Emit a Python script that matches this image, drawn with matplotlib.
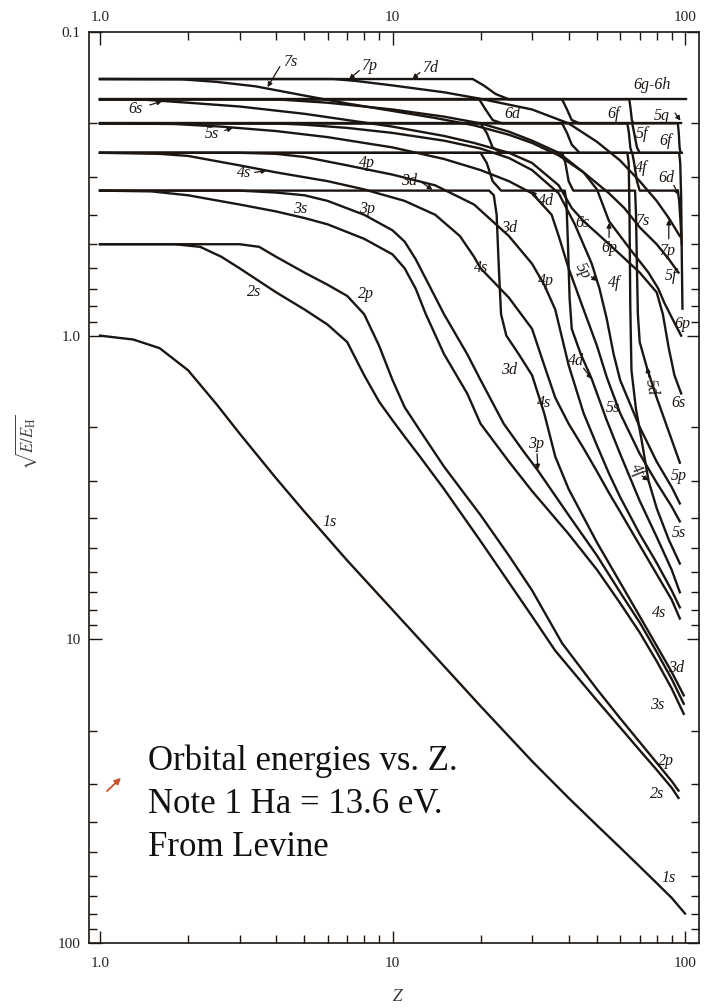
import matplotlib
matplotlib.use('Agg')
import matplotlib.pyplot as plt
from matplotlib.patches import FancyArrowPatch
from matplotlib.ticker import FixedLocator, FixedFormatter, NullFormatter

plt.rcParams['font.family'] = ['Liberation Serif', 'DejaVu Serif']
plt.rcParams['mathtext.fontset'] = 'stix'

# orbital curves: Z values and sqrt(E/E_H) values
z_1s = [1, 1.3, 1.6, 2, 2.5, 3, 4, 5, 7, 10, 14, 20, 30, 40, 50, 60, 70, 80, 90, 100]
y_1s = [1.0, 1.03, 1.1, 1.3, 1.68, 2.1, 2.95, 3.8, 5.5, 8.0, 11.4, 16.6, 25.2, 33.3, 41, 48.5, 56, 63.5, 71, 80]

z_2s = [1, 1.8, 2.2, 2.6, 3, 4, 5, 6, 7, 8, 9, 10, 11, 12.4, 15, 20, 25, 30, 36, 50, 60, 70, 80, 90, 95]
y_2s = [0.5, 0.5, 0.51, 0.55, 0.6, 0.72, 0.82, 0.92, 1.05, 1.35, 1.65, 1.9, 2.15, 2.5, 3.2, 4.75, 6.5, 8.4, 10.9, 15.9, 19.5, 23.2, 26.9, 30.8, 33.3]

z_2p = [1, 3, 3.5, 4, 5, 6, 7, 8, 9, 10, 11, 12.4, 15, 20, 25, 30, 38, 50, 60, 70, 80, 90, 95]
y_2p = [0.5, 0.5, 0.51, 0.55, 0.62, 0.68, 0.74, 0.85, 1.08, 1.4, 1.72, 2.05, 2.7, 3.9, 5.3, 6.9, 10.3, 14.6, 18.2, 21.8, 25.5, 29.3, 31.5]

z_3s = [1, 1.5, 2, 3, 4, 5, 6, 8, 10, 11, 12, 13, 15, 18, 20, 25, 30, 40, 50, 60, 70, 80, 90, 99]
y_3s = [0.333, 0.335, 0.345, 0.37, 0.39, 0.41, 0.43, 0.48, 0.54, 0.6, 0.7, 0.85, 1.15, 1.55, 1.95, 2.6, 3.25, 4.5, 5.9, 7.6, 9.5, 11.8, 14.5, 17.6]

z_3p = [1, 3, 4, 5, 6, 8, 10, 11, 12, 13, 15, 18, 20, 24, 28, 31.4, 40, 50, 60, 70, 80, 90, 99]
y_3p = [0.333, 0.333, 0.338, 0.345, 0.36, 0.4, 0.45, 0.49, 0.56, 0.65, 0.85, 1.15, 1.4, 1.95, 2.4, 2.78, 3.9, 5.3, 7.0, 8.8, 11.0, 13.5, 16.3]

z_3d = [1, 21.4, 22.2, 22.7, 23.1, 23.5, 24.5, 27, 30, 33, 36, 40, 50, 60, 70, 80, 90, 99]
y_3d = [0.333, 0.333, 0.345, 0.4, 0.6, 0.85, 1.0, 1.15, 1.35, 1.8, 2.5, 3.2, 4.8, 6.5, 8.4, 10.5, 12.8, 15.3]

z_4s = [1, 1.6, 2, 3, 4, 6, 8, 11, 14, 17, 19, 20, 25, 30, 33, 36, 40, 45, 50, 55, 60, 70, 80, 90, 96]
y_4s = [0.25, 0.252, 0.256, 0.275, 0.29, 0.31, 0.33, 0.36, 0.4, 0.47, 0.55, 0.6, 0.75, 0.95, 1.25, 1.6, 1.95, 2.35, 2.8, 3.3, 3.8, 4.9, 6.1, 7.4, 8.54]

z_4p = [1, 3, 4, 5, 7, 10, 14, 19, 25, 30, 33, 36, 40, 45, 50, 55, 60, 70, 80, 90, 96]
y_4p = [0.25, 0.25, 0.252, 0.258, 0.275, 0.295, 0.32, 0.37, 0.47, 0.58, 0.68, 0.82, 1.25, 1.8, 2.3, 2.85, 3.4, 4.5, 5.6, 6.9, 7.85]

z_4d = [1, 20, 21, 22, 23.5, 38.8, 39.3, 39.8, 40.3, 41, 44, 48, 54, 60, 70, 80, 90, 96]
y_4d = [0.25, 0.25, 0.27, 0.31, 0.333, 0.333, 0.36, 0.5, 0.75, 0.95, 1.15, 1.39, 1.9, 2.45, 3.5, 4.6, 5.9, 7.0]

z_4f = [1, 63.5, 64.2, 64.6, 65, 65.6, 68, 71, 75, 80, 88, 96]
y_4f = [0.25, 0.25, 0.27, 0.4, 0.8, 1.3, 1.75, 2.2, 3.0, 3.7, 4.7, 5.63]

z_5s = [1, 1.8, 2.6, 4, 6, 10, 15, 20, 25, 30, 35, 37, 40, 45, 50, 54, 60, 70, 80, 90, 96]
y_5s = [0.2, 0.201, 0.205, 0.212, 0.222, 0.24, 0.262, 0.285, 0.31, 0.34, 0.4, 0.47, 0.6, 0.82, 1.08, 1.37, 1.8, 2.45, 3.05, 3.65, 4.09]

z_5p = [1, 4, 5, 7, 10, 15, 20, 25, 30, 37, 42, 48, 51, 54, 57, 60, 70, 80, 90, 96]
y_5p = [0.2, 0.2, 0.202, 0.207, 0.215, 0.228, 0.242, 0.26, 0.285, 0.34, 0.43, 0.58, 0.7, 0.88, 1.15, 1.4, 2.0, 2.6, 3.15, 3.57]

z_5d = [1, 20, 21, 22, 23.5, 38, 39, 40, 41.5, 67.5, 68, 68.5, 69, 70, 74, 80, 90, 96]
y_5d = [0.2, 0.2, 0.215, 0.24, 0.25, 0.25, 0.27, 0.31, 0.333, 0.333, 0.4, 0.6, 0.85, 1.05, 1.27, 1.6, 2.2, 2.62]

z_5f = [1, 63.5, 64.3, 65, 65.8, 95.5, 96.3, 97, 97.5, 98]
y_5f = [0.2, 0.2, 0.215, 0.24, 0.25, 0.25, 0.27, 0.35, 0.55, 0.815]

z_5g = [1, 97]
y_5g = [0.2, 0.2]

z_6s = [1, 1.4, 2, 3, 5, 7, 10, 15, 19, 25, 30, 37, 41, 45, 50, 55, 60, 70, 80, 84, 88, 92, 97]
y_6s = [0.1667, 0.167, 0.171, 0.176, 0.186, 0.195, 0.205, 0.22, 0.232, 0.25, 0.27, 0.32, 0.38, 0.42, 0.46, 0.5, 0.54, 0.62, 0.72, 0.85, 1.1, 1.35, 1.55]

z_6p = [1, 4, 6, 8, 10, 15, 20, 25, 30, 37, 45, 50, 55, 65, 75, 81, 85, 90, 97]
y_6p = [0.1667, 0.1667, 0.171, 0.176, 0.18, 0.19, 0.2, 0.213, 0.228, 0.25, 0.29, 0.33, 0.42, 0.52, 0.62, 0.7, 0.78, 0.87, 1.0]

z_6d = [1, 19.8, 20.8, 22, 23.7, 38, 39.5, 41, 43.6, 66, 67, 68.5, 70, 94.5, 95.5, 96.5, 97.5]
y_6d = [0.1667, 0.1667, 0.18, 0.195, 0.2, 0.2, 0.215, 0.235, 0.25, 0.25, 0.27, 0.31, 0.333, 0.333, 0.36, 0.42, 0.5]

z_6f = [1, 64.5, 65.2, 65.8, 66.5, 94.5, 95.2, 95.8, 96.5, 97.5]
y_6f = [0.1667, 0.1667, 0.18, 0.195, 0.2, 0.2, 0.215, 0.24, 0.25, 0.25]

z_6g = [1, 101]
y_6g = [0.1667, 0.1667]

z_7s = [1, 1.9, 2.5, 3.4, 5, 7, 10, 14, 19, 25, 30, 37, 45, 55, 62, 70, 80, 88, 95]
y_7s = [0.1429, 0.1432, 0.146, 0.151, 0.162, 0.172, 0.182, 0.192, 0.203, 0.218, 0.232, 0.255, 0.29, 0.34, 0.38, 0.44, 0.5, 0.56, 0.62]

z_7p = [1, 6.3, 7.5, 10, 15, 20, 30, 40, 50, 60, 70, 80, 88, 96]
y_7p = [0.1429, 0.1429, 0.145, 0.15, 0.158, 0.166, 0.18, 0.2, 0.23, 0.265, 0.31, 0.36, 0.41, 0.47]

z_7d = [1, 18.8, 20.5, 22.5, 25, 38, 39.5, 41, 43.6, 66, 67, 68.5, 70, 94]
y_7d = [0.1429, 0.1429, 0.15, 0.16, 0.1667, 0.1667, 0.18, 0.195, 0.2, 0.2, 0.215, 0.24, 0.25, 0.25]

curves = [(z_1s, y_1s), (z_2s, y_2s), (z_2p, y_2p), (z_3s, y_3s), (z_3p, y_3p),
          (z_3d, y_3d), (z_4s, y_4s), (z_4p, y_4p), (z_4d, y_4d), (z_4f, y_4f),
          (z_5s, y_5s), (z_5p, y_5p), (z_5d, y_5d), (z_5f, y_5f), (z_5g, y_5g),
          (z_6s, y_6s), (z_6p, y_6p), (z_6d, y_6d), (z_6f, y_6f), (z_6g, y_6g),
          (z_7s, y_7s), (z_7p, y_7p), (z_7d, y_7d)]

# curve labels: text, Z, value, rotation
labels = [
    ('7s', 4.46, 0.126, 0), ('7p', 8.34, 0.129, 0), ('7d', 13.4, 0.131, 0),
    ('6s', 1.32, 0.179, 0), ('5s', 2.41, 0.217, 0), ('4s', 3.1, 0.292, 0),
    ('4p', 8.15, 0.271, 0), ('3d', 11.4, 0.309, 0), ('3s', 4.82, 0.382, 0),
    ('3p', 8.2, 0.382, 0), ('2s', 3.36, 0.72, 0), ('2p', 8.14, 0.727, 0),
    ('1s', 6.1, 4.1, 0),
    ('6g-6h', 77.2, 0.150, 0), ('6d', 25.7, 0.186, 0), ('6f', 57, 0.186, 0),
    ('5g', 83.3, 0.189, 0), ('5f', 71, 0.216, 0), ('6f', 86, 0.228, 0),
    ('4f', 71, 0.28, 0), ('6d', 86, 0.302, 0),
    ('4d', 33.5, 0.36, 0), ('3d', 25, 0.441, 0), ('4s', 20.1, 0.597, 0),
    ('4p', 33.5, 0.659, 0), ('5p', 44.6, 0.611, -60), ('4f', 57.2, 0.669, 0),
    ('6s', 44.6, 0.425, 0), ('6p', 55, 0.513, 0), ('7s', 71.5, 0.418, 0),
    ('7p', 87, 0.525, 0), ('5f', 89.5, 0.634, 0), ('6p', 98, 0.913, 0),
    ('3d', 25, 1.30, 0), ('4d', 42.4, 1.21, 0), ('5d', 76.4, 1.48, -80),
    ('4s', 33, 1.67, 0), ('5s', 56.5, 1.73, 0), ('6s', 95.3, 1.67, 0),
    ('3p', 31, 2.27, 0), ('4f', 68.5, 2.78, -60), ('5p', 95.3, 2.89, 0),
    ('5s', 95.3, 4.45, 0), ('4s', 81.5, 8.2, 0), ('3d', 93.5, 12.4, 0),
    ('3s', 80.3, 16.5, 0), ('2p', 86, 25.1, 0), ('2s', 80, 32.2, 0),
    ('1s', 88, 61, 0),
]

# small pointer arrows: tail Z, tail value, tip Z, tip value
pointers = [
    (4.12, 0.130, 3.74, 0.152), (7.7, 0.134, 7.1, 0.1433), (12.4, 0.136, 11.7, 0.1429),
    (1.48, 0.174, 1.63, 0.169), (2.67, 0.211, 2.84, 0.207), (3.38, 0.290, 3.71, 0.286),
    (12.6, 0.313, 13.7, 0.331), (31.2, 0.350, 29.8, 0.334), (91.6, 0.32, 95.3, 0.345),
    (92.5, 0.185, 96.5, 0.196), (47.8, 0.64, 50.1, 0.66), (55, 0.475, 55, 0.425),
    (88, 0.48, 88, 0.415), (45, 1.28, 48, 1.39), (75.3, 1.37, 74.2, 1.27),
    (31.2, 2.45, 31.4, 2.76), (71.3, 2.9, 75, 3.0),
]

caption = ['Orbital energies vs. Z.', 'Note 1 Ha = 13.6 eV.', 'From Levine']

ink = '#1c1612'

fig = plt.figure(figsize=(7.13, 10.08), dpi=100)
ax = fig.add_axes([0.1248, 0.0645, 0.8555, 0.9038])
ax.set_xscale('log')
ax.set_yscale('log')
ax.set_xlim(0.917, 111.6)
ax.set_ylim(100, 0.1)

for z, y in curves:
    ax.plot(z, y, color=ink, lw=1.7, solid_joinstyle='round')

for txt, z, y, rot in labels:
    ax.text(z, y, txt, fontsize=11.5, fontstyle='italic', color=ink,
            ha='center', va='center', rotation=rot)

for tz, ty, hz, hy in pointers:
    ax.annotate('', xy=(hz, hy), xytext=(tz, ty),
                arrowprops=dict(arrowstyle='-|>', color=ink, lw=0.9,
                                mutation_scale=7, shrinkA=0, shrinkB=0))

xticks = [1, 10, 100]
xtick_labels = ['1.0', '10', '100']
ax.xaxis.set_major_locator(FixedLocator(xticks))
ax.xaxis.set_major_formatter(FixedFormatter(xtick_labels))
ax.xaxis.set_minor_locator(FixedLocator([2, 3, 4, 5, 6, 7, 8, 9, 20, 30, 40, 50, 60, 70, 80, 90]))
ax.xaxis.set_minor_formatter(NullFormatter())
ax.yaxis.set_major_locator(FixedLocator([0.1, 1, 10, 100]))
ax.yaxis.set_major_formatter(FixedFormatter(['0.1', '1.0', '10', '100']))
ax.yaxis.set_minor_locator(FixedLocator([0.2, 0.3, 0.4, 0.5, 0.6, 0.7, 0.8, 0.9,
                                         2, 3, 4, 5, 6, 7, 8, 9,
                                         20, 30, 40, 50, 60, 70, 80, 90]))
ax.yaxis.set_minor_formatter(NullFormatter())

ax.tick_params(which='both', direction='in', top=True, right=True,
               labeltop=False, labelbottom=True, color=ink, labelsize=11,
               labelcolor='#222222', width=1.0)
ax.tick_params(which='major', length=9)
ax.tick_params(which='minor', length=5.5)
ax.tick_params(axis='x', which='major', pad=10)
ax.tick_params(axis='y', which='major', pad=6)
for sp in ax.spines.values():
    sp.set_linewidth(1.2)
    sp.set_color(ink)

# top tick labels sit closer to the frame than the bottom ones
for xv, lab in zip(xticks, xtick_labels):
    ax.text(xv, 1.0155, lab, transform=ax.get_xaxis_transform(), fontsize=11,
            color='#222222', ha='center', va='center')

ax.set_ylabel(r'$\sqrt{E/E_{\mathrm{H}}}$', fontsize=12, color='#444444')
ax.yaxis.set_label_coords(-0.082, 0.55)
ax.set_xlabel(r'$Z$', fontsize=12, color='#333333')
ax.xaxis.set_label_coords(0.507, -0.050)

for i, line in enumerate(caption):
    fig.text(148 / 713, 1 - (770 + 43 * i) / 1008, line, fontsize=25,
             color='#111111', ha='left', va='baseline')

fig.patches.append(FancyArrowPatch(
    (105 / 713, 1 - 793 / 1008), (123 / 713, 1 - 776 / 1008),
    transform=fig.transFigure, arrowstyle='-|>', mutation_scale=9,
    color='#c8502a', lw=1.3))

fig.savefig('out.png', dpi=100)
